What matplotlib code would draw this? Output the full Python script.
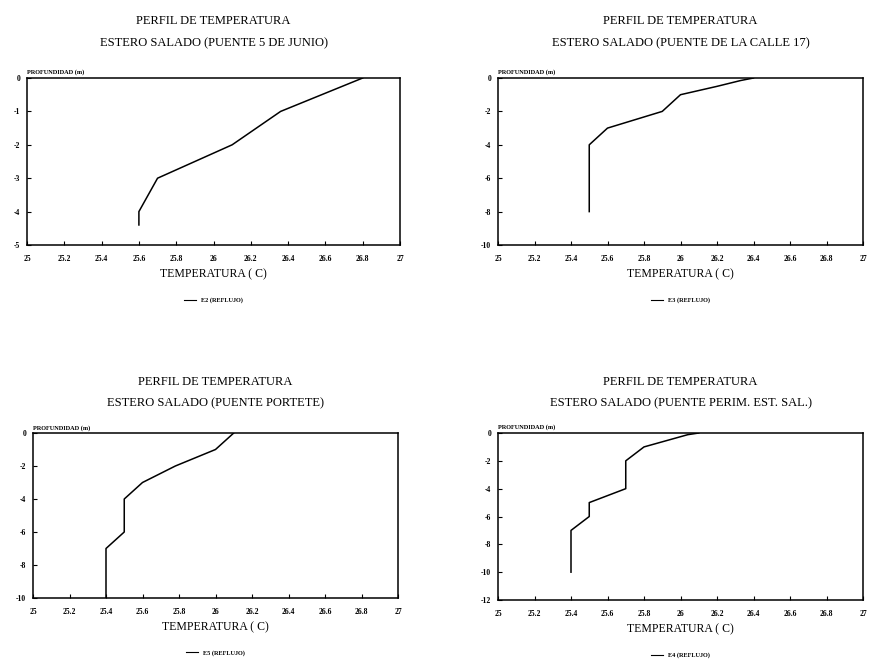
import matplotlib
matplotlib.use("Agg")
import matplotlib.pyplot as plt
from matplotlib.lines import Line2D

plt.rcParams['font.family'] = ['Liberation Serif', 'DejaVu Serif']

# datos: temperatura (C) y profundidad (m)
temp_e2 = [26.8, 26.36, 26.1, 25.7, 25.6, 25.6]
prof_e2 = [0, -1, -2, -3, -4, -4.4]

temp_e3 = [26.4, 26.33, 26.2, 26.0, 25.9, 25.6, 25.5, 25.5]
prof_e3 = [0, -0.15, -0.5, -1, -2, -3, -4, -8]

temp_e5 = [26.1, 26.0, 25.78, 25.6, 25.5, 25.5, 25.4, 25.4]
prof_e5 = [0, -1, -2, -3, -4, -6, -7, -10]

temp_e4 = [26.1, 26.04, 25.8, 25.7, 25.7, 25.5, 25.5, 25.4, 25.4]
prof_e4 = [0, -0.12, -1, -2, -4, -5, -6, -7, -10]

xticks = [25, 25.2, 25.4, 25.6, 25.8, 26, 26.2, 26.4, 26.6, 26.8, 27]
xlabels = ['25', '25.2', '25.4', '25.6', '25.8', '26', '26.2', '26.4', '26.6', '26.8', '27']

titulos = ["ESTERO SALADO (PUENTE 5 DE JUNIO)",
           "ESTERO SALADO (PUENTE DE LA CALLE 17)",
           "ESTERO SALADO (PUENTE PORTETE)",
           "ESTERO SALADO (PUENTE PERIM. EST. SAL.)"]
leyendas = ["E2 (REFLUJO)", "E3 (REFLUJO)", "E5 (REFLUJO)", "E4 (REFLUJO)"]

W, H = 871, 662
fig = plt.figure(figsize=(W / 100, H / 100), dpi=100)

def caja(l, r, t, b):
    return [l / W, 1 - b / H, (r - l) / W, (b - t) / H]

paneles = [
    (caja(27, 400, 78, 245), temp_e2, prof_e2, -5, 1, 23),
    (caja(498, 863, 78, 245), temp_e3, prof_e3, -10, 2, 23),
    (caja(33, 398, 433, 598), temp_e5, prof_e5, -10, 2, 19),
    (caja(498, 863, 433, 600), temp_e4, prof_e4, -12, 2, 19),
]

for i, (pos, t, p, ymin, paso, tpad) in enumerate(paneles):
    ax = fig.add_axes(pos)
    ax.plot(t, p, color='black', lw=1.1)
    ax.set_xlim(25, 27)
    ax.set_ylim(ymin, 0)
    ax.set_xticks(xticks)
    ax.set_xticklabels(xlabels, fontsize=5.5, fontweight='bold')
    yt = list(range(0, ymin - 1, -paso))
    ax.set_yticks(yt)
    ax.set_yticklabels([str(v) for v in yt], fontsize=5.5, fontweight='bold')
    ax.tick_params(direction='in', length=3, width=0.8)
    ax.tick_params(axis='x', pad=7)
    ax.tick_params(axis='y', pad=5)
    for s in ax.spines.values():
        s.set_linewidth(1.1)
    ax.text(0, 1.015, "PROFUNDIDAD (m)", transform=ax.transAxes,
            fontsize=4.5, fontweight='bold', ha='left', va='bottom')
    ax.set_xlabel("TEMPERATURA ( C)", fontsize=8.5, labelpad=4)
    ax.set_title("PERFIL DE TEMPERATURA\n" + titulos[i], fontsize=9,
                 linespacing=2.1, pad=tpad)
    h = Line2D([], [], color='black', lw=0.8)
    ax.legend([h], [leyendas[i]], loc='upper center', bbox_to_anchor=(0.5, -0.28),
              frameon=False, handlelength=1.8, prop={'size': 4.5, 'weight': 'bold'})

fig.savefig("out.png", dpi=100)
